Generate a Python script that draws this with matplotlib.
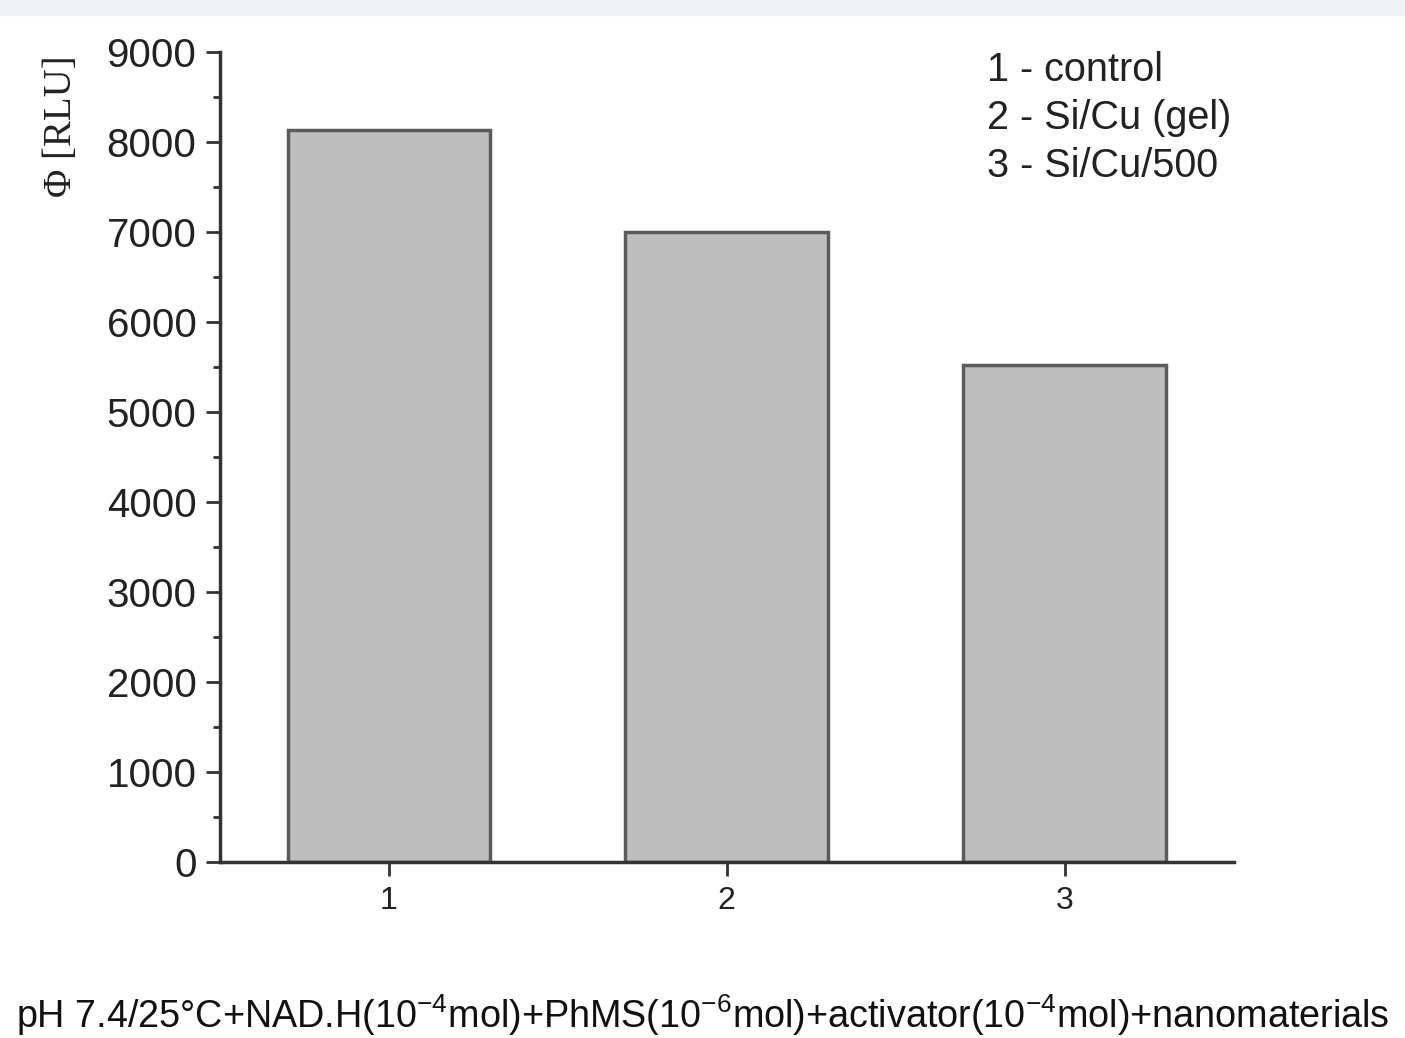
import numpy as np
import matplotlib.pyplot as plt
from matplotlib.ticker import MultipleLocator
from matplotlib.patches import Rectangle

# bar data
samples = [1, 2, 3]
signal = [8130, 7000, 5520]
legend_lines = ['1 - control', '2 - Si/Cu (gel)', '3 - Si/Cu/500']
caption = (r'pH 7.4/25°C+NAD.H(10$^{-4}$mol)+PhMS(10$^{-6}$mol)'
           r'+activator(10$^{-4}$mol)+nanomaterials')

plt.rcParams['font.family'] = ['Liberation Sans', 'DejaVu Sans']
plt.rcParams['mathtext.fontset'] = 'custom'
plt.rcParams['mathtext.rm'] = 'Liberation Sans'
plt.rcParams['mathtext.it'] = 'Liberation Sans'

fig = plt.figure(figsize=(14.05, 10.38), dpi=100)
fig.patches.append(Rectangle((0, 0.986), 1, 0.014, transform=fig.transFigure,
                             color='#f0f1f3', zorder=0))
ax = fig.add_axes([0.1566, 0.1696, 0.7214, 0.7804])

dark = '#333333'
ax.bar(samples, signal, width=0.6, color='#bebebe', edgecolor='#5e5a5a',
       linewidth=2.5, zorder=2)

ax.set_xlim(0.5, 3.5)
ax.set_ylim(0, 9000)
ax.yaxis.set_major_locator(MultipleLocator(1000))
ax.yaxis.set_minor_locator(MultipleLocator(500))
ax.set_xticks(samples)
ax.set_xticklabels([str(s) for s in samples])

for side in ['top', 'right']:
    ax.spines[side].set_visible(False)
for side in ['left', 'bottom']:
    ax.spines[side].set_linewidth(2.5)
    ax.spines[side].set_color(dark)

ax.tick_params(axis='y', which='major', direction='out', length=10, width=2,
               color=dark, labelsize=29, labelcolor='#222222', pad=7)
ax.tick_params(axis='y', which='minor', direction='out', length=5, width=2,
               color=dark)
ax.tick_params(axis='x', which='major', direction='out', length=10, width=2,
               color=dark, labelsize=23, labelcolor='#222222', pad=7)

fig.text(0.044, 0.878, 'Φ [RLU]', rotation=90, ha='center', va='center',
         fontsize=28, family=['Liberation Serif', 'DejaVu Serif'], color='#222222')

for i, line in enumerate(legend_lines):
    ax.text(0.757, 0.978 - i * 0.0595, line, transform=ax.transAxes,
            fontsize=28.5, color='#222222', va='center', ha='left')

fig.text(0.5, 0.01, caption, ha='center', va='baseline', fontsize=27.2,
         color='#111111')

fig.savefig('out.png', dpi=100)
